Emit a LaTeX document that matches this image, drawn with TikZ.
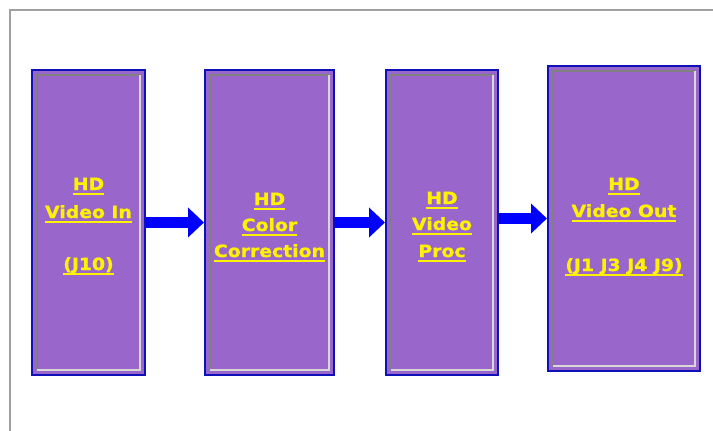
\documentclass[tikz,border=0pt]{standalone}
\usepackage{fontspec}
\newfontfamily\lblfont{DejaVu Sans}[FakeStretch=1.12,FakeBold=1.3]
\usetikzlibrary{arrows.meta}
\definecolor{boxpurple}{HTML}{9966CC}
\definecolor{boxblue}{HTML}{1010B8}
\definecolor{bevdark}{HTML}{808080}
\definecolor{bevlight}{HTML}{D8D8D8}
\definecolor{framegray}{HTML}{A0A0A0}
\definecolor{arrowblue}{HTML}{0000FF}
\newcommand\ulx[1]{\setbox0\hbox{#1}\rlap{\rule[-4.6pt]{\wd0}{1.8pt}}\box0}
\newcommand\bevel[1]{%
  \draw[bevd] ([shift={(5,-5)}]#1.south west) -- ([shift={(5,5)}]#1.north west) -- ([shift={(-5,5)}]#1.north east);
  \draw[bevl] ([shift={(-5,5)}]#1.north east) -- ([shift={(-5,-5)}]#1.south east) -- ([shift={(5,-5)}]#1.south west);}
\begin{document}
\begin{tikzpicture}[x=1pt,y=-1pt,
  blockbox/.style={rectangle, fill=boxpurple, draw=boxblue, line width=2pt, inner sep=0pt, outer sep=0pt, minimum height=305pt},
  lbl/.style={anchor=base, inner sep=0pt, text=yellow, font=\lblfont\bfseries\fontsize{16.8}{20}\selectfont},
  flow/.style={draw=arrowblue, line width=11pt, shorten <=1pt, shorten >=1pt, -{Triangle[length=16pt,width=29pt]}},
  bevd/.style={draw=bevdark, line width=1.5pt},
  bevl/.style={draw=bevlight, line width=1.5pt},
  frameline/.style={draw=framegray, line width=2pt}]
\useasboundingbox[fill=white] (0,0) rectangle (713,431);
\draw[frameline] (10,431) -- (10,10) -- (713,10);

\node[blockbox, minimum width=113pt] (b1) at (88.5,222.5) {};
\node[blockbox, minimum width=129pt] (b2) at (269.5,222.5) {};
\node[blockbox, minimum width=112pt] (b3) at (442,222.5) {};
\node[blockbox, minimum width=152pt] (b4) at (624,218.5) {};
\bevel{b1}\bevel{b2}\bevel{b3}\bevel{b4}

\draw[flow] (b1.east) -- (b2.west);
\draw[flow] (b2.east) -- (b3.west);
\draw[flow] (b3.east |- b4.west) -- (b4.west);

\node[lbl] (t1a) at (88.5,190) {\ulx{HD}};
\node[lbl] (t1b) at (88.5,218) {\ulx{Video In}};
\node[lbl] (t1c) at (88.5,270) {\ulx{(J10)}};

\node[lbl] (t2a) at (269.5,205) {\ulx{HD}};
\node[lbl] (t2b) at (269.5,231) {\ulx{Color}};
\node[lbl] (t2c) at (269.5,257) {\ulx{Correction}};

\node[lbl] (t3a) at (442,204) {\ulx{HD}};
\node[lbl] (t3b) at (442,230) {\ulx{Video}};
\node[lbl] (t3c) at (442,257) {\ulx{Proc}};

\node[lbl] (t4a) at (624,190) {\ulx{HD}};
\node[lbl] (t4b) at (624,217) {\ulx{Video Out}};
\node[lbl] (t4c) at (624,271) {\ulx{(J1 J3 J4 J9)}};
\end{tikzpicture}
\end{document}
